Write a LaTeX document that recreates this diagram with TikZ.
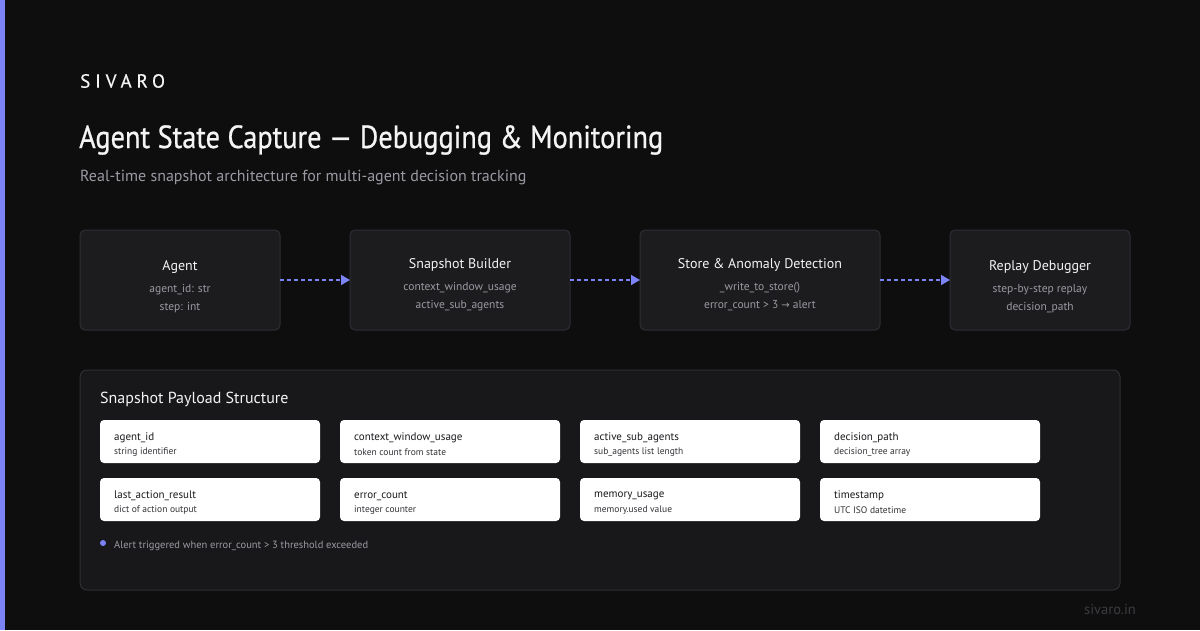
\documentclass[tikz,border=0pt]{standalone}
\usepackage{fontspec}
\setmainfont{PT Sans}
\newfontfamily\symfont{DejaVu Sans}
\usetikzlibrary{arrows.meta}
\definecolor{bg}{HTML}{0E0E0F}
\definecolor{accent}{HTML}{7C83F5}
\definecolor{boxfill}{HTML}{1C1C1F}
\definecolor{boxline}{HTML}{2F2F34}
\definecolor{panel}{HTML}{18181B}
\definecolor{subgray}{HTML}{9A9AA2}
\definecolor{titlewhite}{HTML}{F4F4F5}
\definecolor{cardtext}{HTML}{1A1A1E}
\definecolor{carddesc}{HTML}{333338}
\definecolor{footgray}{HTML}{3C3C41}
\tikzset{
  stagebox/.style={draw=boxline, line width=1pt, fill=boxfill, rounded corners=5pt},
  card/.style={fill=white, rounded corners=4pt},
  flow/.style={accent, line width=1.6pt, dash pattern=on 4pt off 3pt, -{Triangle[length=9pt,width=10pt]}},
  stitle/.style={text=titlewhite, font=\fontsize{14}{16}\selectfont},
  ssub/.style={text=subgray, font=\fontsize{11.5}{13}\selectfont},
  cname/.style={anchor=west, text=cardtext, inner sep=0, font=\fontsize{11}{12}\selectfont},
  cdesc/.style={anchor=west, text=carddesc, inner sep=0, font=\fontsize{9.5}{11}\selectfont},
}
\begin{document}
\begin{tikzpicture}[x=1pt, y=-1pt]
\fill[bg] (0,0) rectangle (1200,630);
\useasboundingbox (0,0) rectangle (1200,630);
\fill[accent] (0,0) rectangle (5,630);
% header
\node[anchor=west, inner sep=0, text=titlewhite, font=\fontsize{19}{21}\selectfont\addfontfeatures{LetterSpace=26,FakeBold=0.5}] (brand) at (80,81) {SIVARO};
\node[anchor=west, inner sep=0, text=titlewhite, font=\fontsize{32}{34}\selectfont\addfontfeatures{FakeStretch=0.885,FakeBold=0.7}] (title) at (79,140) {Agent State Capture — Debugging \& Monitoring};
\node[anchor=west, inner sep=0, text=subgray, font=\fontsize{16}{18}\selectfont] (subtitle) at (80,178) {Real-time snapshot architecture for multi-agent decision tracking};
% stage boxes
\draw[stagebox] (80,230) rectangle (280,330);
\coordinate (agentR) at (280,280);
\draw[stagebox] (350,230) rectangle (570,330);
\coordinate (buildL) at (350,280); \coordinate (buildR) at (570,280);
\draw[stagebox] (640,230) rectangle (880,330);
\coordinate (storeL) at (640,280); \coordinate (storeR) at (880,280);
\draw[stagebox] (950,230) rectangle (1130,330);
\coordinate (replayL) at (950,280);
\node[stitle] (agentT) at (180,267) {Agent};
\node[ssub] (agentS1) at (180,290) {agent\_id: str};
\node[ssub] (agentS2) at (180,308) {step: int};
\node[stitle] (buildT) at (460,265) {Snapshot Builder};
\node[ssub] (buildS1) at (460,288) {context\_window\_usage};
\node[ssub] (buildS2) at (460,306) {active\_sub\_agents};
\node[stitle] (storeT) at (760,265) {Store \& Anomaly Detection};
\node[ssub] (storeS1) at (760,288) {\_write\_to\_store()};
\node[ssub] (storeS2) at (760,306) {error\_count > 3 {\symfont\fontsize{10}{12}\selectfont →} alert};
\node[stitle] (replayT) at (1040,267) {Replay Debugger};
\node[ssub] (replayS1) at (1040,290) {step-by-step replay};
\node[ssub] (replayS2) at (1040,308) {decision\_path};
\draw[flow] (agentR) -- (buildL);
\draw[flow] (buildR) -- (storeL);
\draw[flow] (storeR) -- (replayL);
% payload panel
\draw[draw=boxline, line width=1pt, fill=panel, rounded corners=7pt] (80,370) rectangle (1120,590);
\node[anchor=west, inner sep=0, text=titlewhite, font=\fontsize{16}{18}\selectfont] (ptitle) at (100,399) {Snapshot Payload Structure};
\foreach \x/\y/\n/\d in {
  100/420/agent\_id/string identifier,
  340/420/context\_window\_usage/token count from state,
  580/420/active\_sub\_agents/sub\_agents list length,
  820/420/decision\_path/decision\_tree array,
  100/478/last\_action\_result/dict of action output,
  340/478/error\_count/integer counter,
  580/478/memory\_usage/memory.used value,
  820/478/timestamp/UTC ISO datetime}{
  \fill[card] (\x,\y) rectangle ++(220,43);
  \node[cname] at (\x+14,\y+18) {\n};
  \node[cdesc] at (\x+14,\y+32) {\d};
}
\fill[accent] (103,543) circle (3);
\node[anchor=west, inner sep=0, text=subgray, font=\fontsize{10.5}{12}\selectfont] (alert) at (114,546) {Alert triggered when error\_count > 3 threshold exceeded};
\node[anchor=east, inner sep=0, text=footgray, font=\fontsize{14.5}{16}\selectfont] (foot) at (1136,609) {sivaro.in};
\end{tikzpicture}
\end{document}
